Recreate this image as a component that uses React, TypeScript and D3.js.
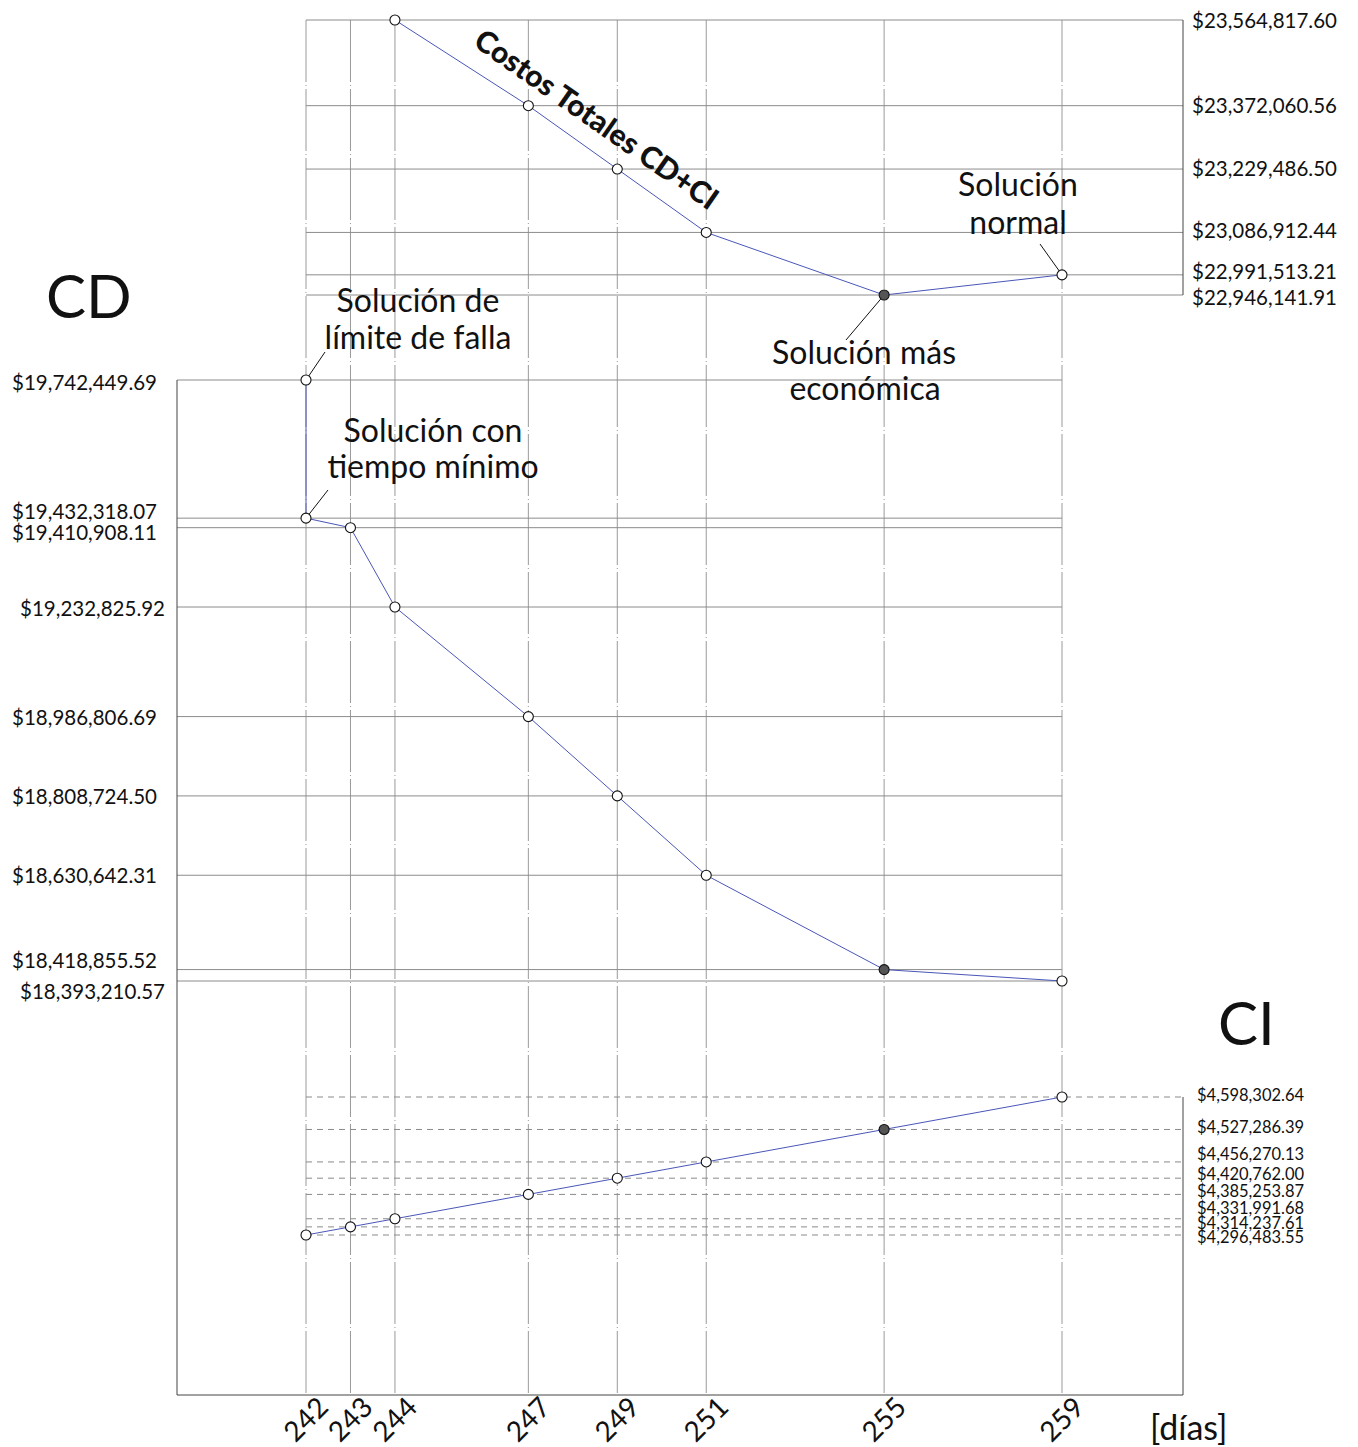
import React from "react";
import * as d3 from "d3";

// ---- data ----
const days = [242, 243, 244, 247, 249, 251, 255, 259];
const totalDays = [244, 247, 249, 251, 255, 259];
const totalCost = [23564817.6, 23372060.56, 23229486.5, 23086912.44, 22946141.91, 22991513.21];
const cdDays = [242, 242, 243, 244, 247, 249, 251, 255, 259];
const cdCost = [19742449.69, 19432318.07, 19410908.11, 19232825.92, 18986806.69, 18808724.5, 18630642.31, 18418855.52, 18393210.57];
const ciDays = [242, 243, 244, 247, 249, 251, 255, 259];
const ciCost = [4296483.55, 4314237.61, 4331991.68, 4385253.87, 4420762.0, 4456270.13, 4527286.39, 4598302.64];
const optimumDay = 255;

const fmt = (v: number) => "$" + d3.format(",.2f")(v);

const W = 1358;
const H = 1447;
const FONT = "Lato, 'Open Sans', sans-serif";

export default function App() {
  const x = d3.scaleLinear().domain([242, 259]).range([306, 1062]);
  const yTop = d3.scaleLinear().domain([22946141.91, 23564817.6]).range([295, 20]);
  const yCD = d3.scaleLinear().domain([18393210.57, 19742449.69]).range([981, 380]);
  const yCI = d3.scaleLinear().domain([4296483.55, 4598302.64]).range([1235, 1097]);

  const frameLeft = 177;
  const frameRight = 1183;
  const frameBottom = 1395;
  const gridTop = 20;

  const topPts = totalDays.map((d, i) => [x(d), yTop(totalCost[i])] as [number, number]);
  const cdPts = cdDays.map((d, i) => [x(d), yCD(cdCost[i])] as [number, number]);
  const ciPts = ciDays.map((d, i) => [x(d), yCI(ciCost[i])] as [number, number]);
  const line = d3.line();

  // label layout tweaks (pixel offsets to avoid overlap)
  const topLabelDy = [0, -1, -1, -2, 2, -4];
  const cdLabelDy = [2, -7, 4, 1, 0, 0, 0, -10, 10];
  const cdLabelX = [157, 157, 157, 165, 157, 157, 157, 157, 165];
  const ciLabelY = [1237, 1223, 1208, 1191, 1174, 1154, 1127, 1095];

  const lineColor = "#4a56b8";
  const gridColor = "#9a9a9a";

  const marker = (p: [number, number], day: number, key: string) => (
    <circle
      key={key}
      cx={p[0]}
      cy={p[1]}
      r={5}
      fill={day === optimumDay ? "#555" : "#fff"}
      stroke="#111"
      strokeWidth={1.1}
    />
  );

  return (
    <svg
      width={W}
      height={H}
      viewBox={`0 0 ${W} ${H}`}
      style={{ position: "absolute", left: 0, top: 0, background: "#fff", fontFamily: FONT }}
    >
      <rect x={0} y={0} width={W} height={H} fill="#fff" />

      {/* vertical dash-dot grid lines */}
      {days.map((d) => (
        <line
          key={"v" + d}
          x1={x(d)}
          x2={x(d)}
          y1={gridTop}
          y2={frameBottom}
          stroke={gridColor}
          strokeWidth={1}
          strokeDasharray="62,3,1,3"
        />
      ))}

      {/* top section: total cost */}
      {totalCost.map((v, i) => (
        <line key={"th" + i} x1={x(242)} x2={frameRight} y1={yTop(v)} y2={yTop(v)} stroke="#8c8c8c" strokeWidth={1} />
      ))}
      <line x1={frameRight} x2={frameRight} y1={yTop(23564817.6)} y2={yTop(22946141.91)} stroke="#444" strokeWidth={1} />
      {totalCost.map((v, i) => (
        <text
          key={"tl" + i}
          x={1192}
          y={yTop(v) + topLabelDy[i]}
          dominantBaseline="central"
          fontSize={20.5}
          fill="#111"
        >
          {fmt(v)}
        </text>
      ))}

      {/* CD section */}
      {cdCost.map((v, i) => (
        <line key={"ch" + i} x1={frameLeft} x2={x(259)} y1={yCD(v)} y2={yCD(v)} stroke="#8c8c8c" strokeWidth={1} />
      ))}
      {cdCost.map((v, i) => (
        <text
          key={"cl" + i}
          x={cdLabelX[i]}
          y={yCD(v) + cdLabelDy[i]}
          dominantBaseline="central"
          textAnchor="end"
          fontSize={20.5}
          fill="#111"
        >
          {fmt(v)}
        </text>
      ))}

      {/* CI section */}
      {ciCost.map((v, i) => (
        <line
          key={"ih" + i}
          x1={x(242)}
          x2={frameRight}
          y1={yCI(v)}
          y2={yCI(v)}
          stroke="#8a8a8a"
          strokeWidth={1}
          strokeDasharray="6,5"
        />
      ))}
      {ciCost.map((v, i) => (
        <text key={"il" + i} x={1197} y={ciLabelY[i]} dominantBaseline="central" fontSize={16.5} fill="#111">
          {fmt(v)}
        </text>
      ))}

      {/* frame */}
      <line x1={frameLeft} x2={frameLeft} y1={yCD(19742449.69)} y2={frameBottom} stroke="#444" strokeWidth={1} />
      <line x1={frameLeft} x2={frameRight} y1={frameBottom} y2={frameBottom} stroke="#444" strokeWidth={1} />
      <line x1={frameRight} x2={frameRight} y1={yCI(4598302.64)} y2={frameBottom} stroke="#444" strokeWidth={1} />

      {/* series lines */}
      <path d={line(topPts) || ""} fill="none" stroke={lineColor} strokeWidth={1} />
      <path d={line(cdPts) || ""} fill="none" stroke={lineColor} strokeWidth={1} />
      <path d={line(ciPts) || ""} fill="none" stroke={lineColor} strokeWidth={1} />

      {/* leader lines */}
      <g stroke="#111" strokeWidth={1}>
        <line x1={cdPts[0][0]} y1={cdPts[0][1]} x2={325} y2={352} />
        <line x1={cdPts[1][0]} y1={cdPts[1][1]} x2={328} y2={490} />
        <line x1={topPts[4][0]} y1={topPts[4][1]} x2={846} y2={340} />
        <line x1={topPts[5][0]} y1={topPts[5][1]} x2={1040} y2={244} />
      </g>

      {/* markers */}
      {topPts.map((p, i) => marker(p, totalDays[i], "tm" + i))}
      {cdPts.map((p, i) => marker(p, cdDays[i], "cm" + i))}
      {ciPts.map((p, i) => marker(p, ciDays[i], "im" + i))}

      {/* annotations */}
      <g fontSize={32} fill="#111" textAnchor="middle">
        <text x={418} y={312}>Solución de</text>
        <text x={418} y={349}>límite de falla</text>
        <text x={433} y={442}>Solución con</text>
        <text x={433} y={478}>tiempo mínimo</text>
        <text x={1018} y={196}>Solución</text>
        <text x={1018} y={234}>normal</text>
        <text x={864} y={364}>Solución más</text>
        <text x={865} y={400}>económica</text>
      </g>
      <text x={472} y={45} transform="rotate(35 472 45)" fontSize={30} fontWeight="900" fill="#111">
        Costos Totales CD+CI
      </text>

      <text x={46} y={318} fontSize={60} fill="#111">CD</text>
      <text x={1218} y={1045} fontSize={60} fill="#111">CI</text>

      {/* x axis tick labels */}
      {days.map((d) => (
        <text
          key={"xt" + d}
          x={x(d) + 24}
          y={1409}
          transform={`rotate(-45 ${x(d) + 24} 1409)`}
          textAnchor="end"
          fontSize={28}
          fill="#111"
        >
          {d}
        </text>
      ))}
      <text x={1150} y={1440} fontSize={34} fill="#111">[días]</text>
    </svg>
  );
}
